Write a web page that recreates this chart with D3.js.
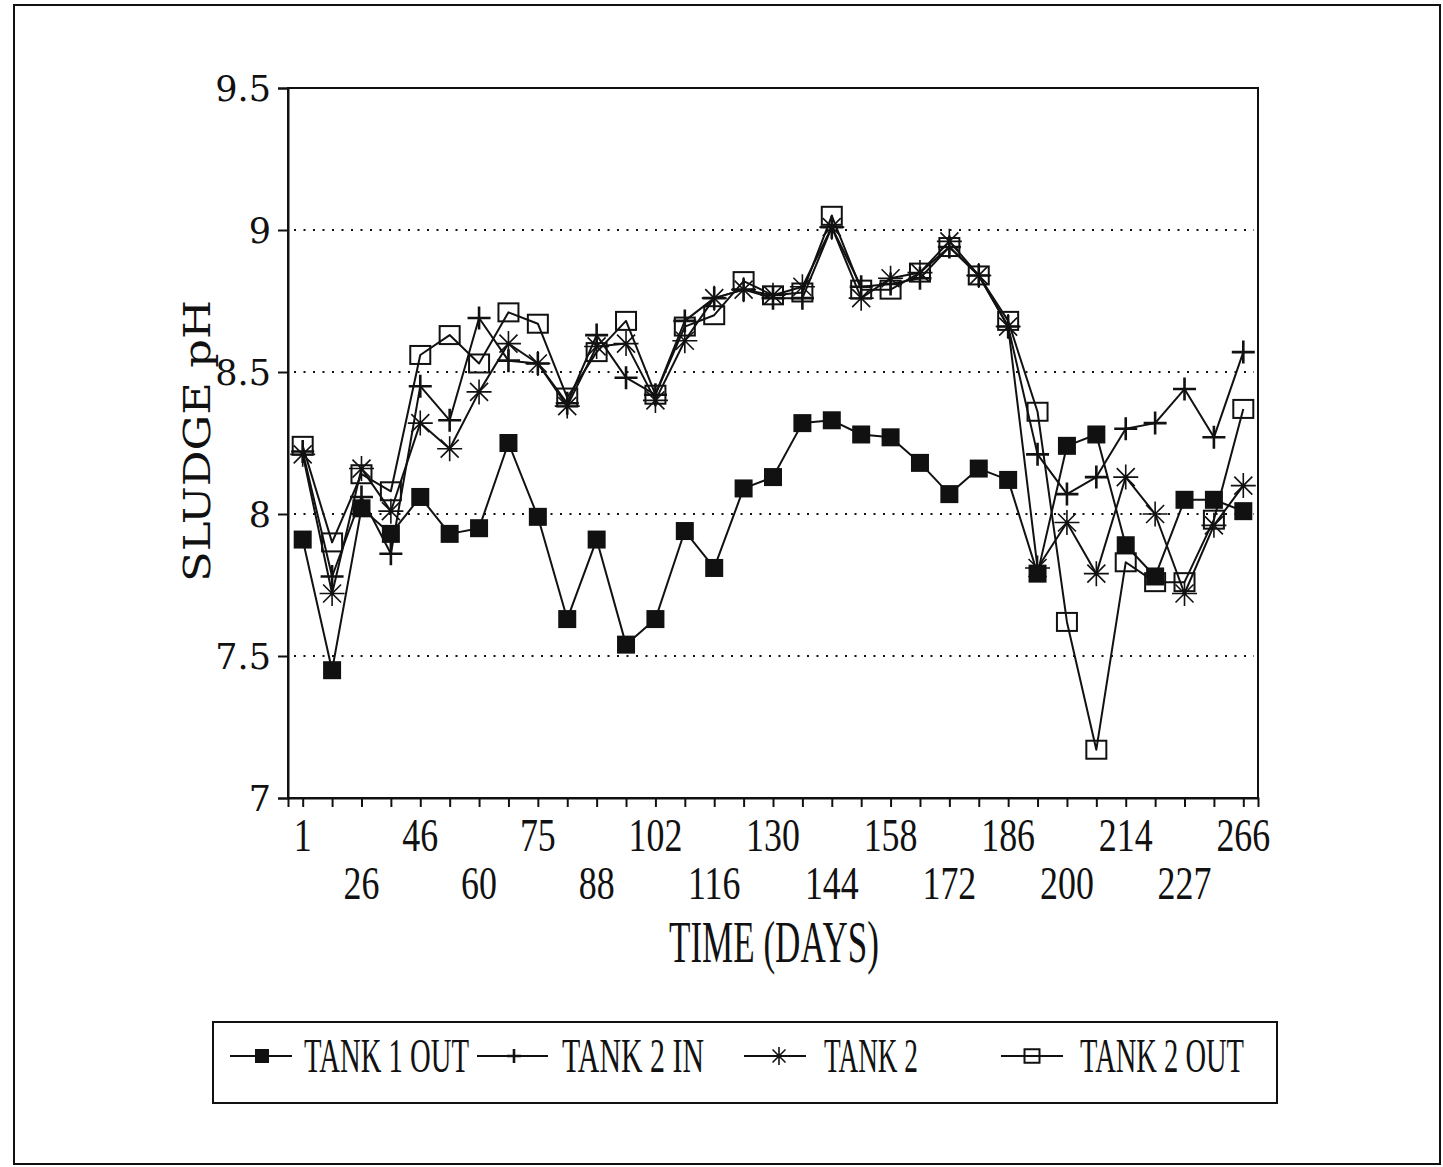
<!DOCTYPE html>
<html>
<head>
<meta charset="utf-8">
<script src="https://cdn.jsdelivr.net/npm/d3@7"></script>
<style>
  html, body { margin: 0; padding: 0; background: #fff; }
  svg { display: block; }
</style>
</head>
<body>
<script>
// ---------- DATA ----------
const sampleIds = [1,2,3,4,5,6,7,8,9,10,11,12,13,14,15,16,17,18,19,20,21,22,23,24,25,26,27,28,29,30,31,32,33];
const dayLabels = ["1","","26","","46","","60","","75","","88","","102","","116","","130","","144","","158","","172","","186","","200","","214","","227","","266"];
const yTickValues = [7, 7.5, 8, 8.5, 9, 9.5];
const yTickLabels = ["7", "7.5", "8", "8.5", "9", "9.5"];
const gridValues = [7.5, 8, 8.5, 9];

const tank1Out = [7.91, 7.45, 8.02, 7.93, 8.06, 7.93, 7.95, 8.25, 7.99, 7.63, 7.91, 7.54, 7.63, 7.94, 7.81, 8.09, 8.13, 8.32, 8.33, 8.28, 8.27, 8.18, 8.07, 8.16, 8.12, 7.79, 8.24, 8.28, 7.89, 7.78, 8.05, 8.05, 8.01];
const tank2In  = [8.22, 7.78, 8.06, 7.86, 8.45, 8.33, 8.69, 8.54, 8.53, 8.39, 8.63, 8.48, 8.42, 8.68, 8.76, 8.79, 8.76, 8.76, 9.01, 8.80, 8.81, 8.83, 8.94, 8.84, 8.66, 8.21, 8.07, 8.13, 8.30, 8.32, 8.44, 8.27, 8.57];
const tank2    = [8.21, 7.72, 8.16, 8.01, 8.32, 8.23, 8.43, 8.60, 8.53, 8.38, 8.59, 8.60, 8.40, 8.61, 8.76, 8.79, 8.77, 8.80, 9.01, 8.76, 8.83, 8.85, 8.96, 8.84, 8.66, 7.81, 7.97, 7.79, 8.13, 8.00, 7.72, 7.96, 8.10];
const tank2Out = [8.24, 7.90, 8.14, 8.08, 8.56, 8.63, 8.53, 8.71, 8.67, 8.41, 8.57, 8.68, 8.42, 8.66, 8.70, 8.82, 8.77, 8.78, 9.05, 8.79, 8.79, 8.85, 8.94, 8.84, 8.68, 8.36, 7.62, 7.17, 7.83, 7.76, 7.76, 7.98, 8.37];

const seriesNames = ["TANK 1 OUT", "TANK 2 IN", "TANK 2", "TANK 2 OUT"];
const seriesValues = [tank1Out, tank2In, tank2, tank2Out];
const seriesMarkers = ["filledSquare", "plus", "star", "openSquare"];

// ---------- LAYOUT ----------
const W = 1443, H = 1167;
const plot = { left: 288, right: 1258, top: 88, bottom: 798 };
const ink = "#111";

const svg = d3.select("body").append("svg").attr("width", W).attr("height", H);
svg.append("rect").attr("width", W).attr("height", H).attr("fill", "#fff");

// outer frame
svg.append("rect").attr("x", 14).attr("y", 5).attr("width", 1426).attr("height", 1159)
  .attr("fill", "none").attr("stroke", ink).attr("stroke-width", 2);

const x = d3.scalePoint().domain(sampleIds).range([plot.left, plot.right]).padding(0.5);
const y = d3.scaleLinear().domain([7, 9.5]).range([plot.bottom, plot.top]);

// gridlines
svg.append("g").selectAll("line").data(gridValues).join("line")
  .attr("x1", plot.left + 6).attr("x2", plot.right - 4)
  .attr("y1", d => y(d)).attr("y2", d => y(d))
  .attr("stroke", ink).attr("stroke-width", 2).attr("stroke-dasharray", "2,7.5");

// plot frame
svg.append("rect").attr("x", plot.left).attr("y", plot.top)
  .attr("width", plot.right - plot.left).attr("height", plot.bottom - plot.top)
  .attr("fill", "none").attr("stroke", ink).attr("stroke-width", 2);

// y axis
const yAxis = svg.append("g").attr("transform", `translate(${plot.left},0)`)
  .call(d3.axisLeft(y).tickValues(yTickValues).tickSize(10).tickPadding(7)
    .tickFormat((d, i) => yTickLabels[i]));
yAxis.select(".domain").attr("stroke", ink).attr("stroke-width", 2);
yAxis.selectAll(".tick line").attr("stroke", ink).attr("stroke-width", 2);
yAxis.selectAll(".tick text").attr("fill", ink)
  .attr("font-family", "DejaVu Serif").attr("font-size", 35).attr("dy", "0.36em");

// x axis ticks
const xAxis = svg.append("g").attr("transform", `translate(0,${plot.bottom})`)
  .call(d3.axisBottom(x).tickSize(9).tickFormat(""));
xAxis.select(".domain").attr("stroke", ink).attr("stroke-width", 2);
xAxis.selectAll(".tick line").attr("stroke", ink).attr("stroke-width", 2);

// x tick labels in two staggered rows
svg.append("g").selectAll("text")
  .data(sampleIds.filter((d, i) => dayLabels[i] !== ""))
  .join("text")
  .attr("transform", d => {
    const i = sampleIds.indexOf(d);
    const row = (i % 4 === 0) ? 851 : 899;
    return `translate(${x(d)},${row}) scale(0.78,1)`;
  })
  .attr("text-anchor", "middle")
  .attr("font-family", "Liberation Serif").attr("font-size", 46).attr("fill", ink)
  .text(d => dayLabels[sampleIds.indexOf(d)]);

// axis titles
svg.append("text")
  .attr("transform", "translate(210,441) rotate(-90)")
  .attr("text-anchor", "middle")
  .attr("font-family", "DejaVu Serif").attr("font-size", 38).attr("fill", ink)
  .attr("textLength", 282).attr("lengthAdjust", "spacingAndGlyphs")
  .text("SLUDGE pH");

svg.append("text")
  .attr("x", 774).attr("y", 962)
  .attr("text-anchor", "middle")
  .attr("font-family", "Liberation Serif").attr("font-size", 60).attr("fill", ink)
  .attr("textLength", 210).attr("lengthAdjust", "spacingAndGlyphs")
  .text("TIME (DAYS)");

// ---------- MARKERS ----------
function drawMarker(g, type, s) {
  if (type === "filledSquare") {
    g.append("rect").attr("x", -s / 2).attr("y", -s / 2).attr("width", s).attr("height", s)
      .attr("fill", ink);
  } else if (type === "openSquare") {
    g.append("rect").attr("x", -s / 2).attr("y", -s * 0.45).attr("width", s).attr("height", s * 0.9)
      .attr("fill", "none").attr("stroke", ink).attr("stroke-width", 2);
  } else if (type === "plus") {
    const h = s / 2;
    g.append("path").attr("d", `M${-h},0H${h}M0,${-h}V${h}`)
      .attr("stroke", ink).attr("stroke-width", 2.6).attr("fill", "none");
  } else if (type === "star") {
    const h = s / 2, d = h * 0.72;
    g.append("path").attr("d", `M${-h},0H${h}M0,${-h}V${h}M${-d},${-d}L${d},${d}M${-d},${d}L${d},${-d}`)
      .attr("stroke", ink).attr("stroke-width", 1.6).attr("fill", "none");
  }
}
const markerSize = { filledSquare: 18, openSquare: 20, plus: 23, star: 25 };

const line = d3.line().x((d, i) => x(sampleIds[i])).y(d => y(d));

seriesValues.forEach((vals, si) => {
  const g = svg.append("g");
  g.append("path").datum(vals).attr("d", line)
    .attr("fill", "none").attr("stroke", ink).attr("stroke-width", 2).attr("stroke-linejoin", "round");
  const type = seriesMarkers[si];
  g.selectAll("g.m").data(vals).join("g").attr("class", "m")
    .attr("transform", (d, i) => `translate(${x(sampleIds[i])},${y(d)})`)
    .each(function () { drawMarker(d3.select(this), type, markerSize[type]); });
});

// ---------- LEGEND ----------
svg.append("rect").attr("x", 213).attr("y", 1022).attr("width", 1064).attr("height", 81)
  .attr("fill", "#fff").attr("stroke", ink).attr("stroke-width", 2);

const legendLineX = [[230, 292], [477, 548], [744, 806], [1001, 1063]];
const legendMarkX = [262, 514, 779, 1032];
const legendTextX = [304, 562, 824, 1080];
const legendTextW = [165, 142, 94, 164];
const legendMarkerSize = { filledSquare: 14, openSquare: 15, plus: 14, star: 18 };
const legendY = 1056;

seriesNames.forEach((name, i) => {
  const g = svg.append("g");
  g.append("line").attr("x1", legendLineX[i][0]).attr("x2", legendLineX[i][1])
    .attr("y1", legendY).attr("y2", legendY).attr("stroke", ink).attr("stroke-width", 2);
  const m = g.append("g").attr("transform", `translate(${legendMarkX[i]},${legendY})`);
  drawMarker(m, seriesMarkers[i], legendMarkerSize[seriesMarkers[i]]);
  g.append("text").attr("x", legendTextX[i]).attr("y", 1072)
    .attr("font-family", "Liberation Serif").attr("font-size", 48).attr("fill", ink)
    .attr("textLength", legendTextW[i]).attr("lengthAdjust", "spacingAndGlyphs")
    .text(name);
});
</script>
</body>
</html>
